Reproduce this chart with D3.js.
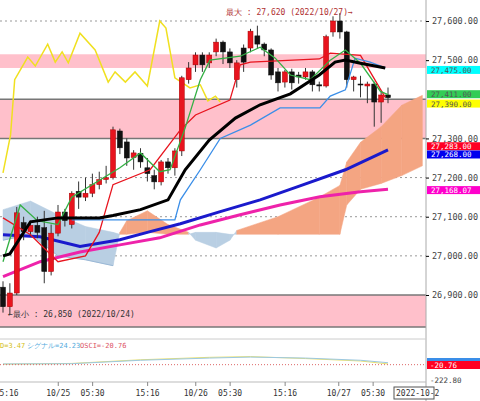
<!DOCTYPE html>
<html><head><meta charset="utf-8">
<script src="https://cdn.jsdelivr.net/npm/d3@7/dist/d3.min.js"></script>
<style>body{margin:0;background:#fff}text{font-family:"DejaVu Sans Mono",monospace}</style>
</head><body><div id="content"></div>
<script>
var width = 480, height = 401, plotW = 426;

// candles: [t, open, close, high, low]
var candles = [
 [0,26920,26870,26935,26855],[1,26870,26905,26930,26850],[2,26905,27110,27125,26900],
 [3,27085,27062,27100,27040],[4,27062,27078,27090,27050],[5,27078,27060,27100,27045],
 [6,27072,26960,27115,26930],[7,26960,27058,27080,26950],[8,27058,27112,27130,27050],
 [9,27112,27090,27120,27075],[10,27080,27160,27165,27070],[11,27165,27150,27190,27120],
 [12,27150,27160,27200,27140],[13,27160,27182,27210,27150],[14,27182,27195,27215,27170],
 [15,27195,27200,27230,27185],[16,27200,27322,27330,27195],[17,27319,27276,27325,27260],
 [18,27291,27250,27300,27230],[19,27251,27263,27270,27220],[20,27262,27240,27275,27225],
 [21,27225,27210,27250,27190],[22,27205,27189,27220,27170],[23,27189,27240,27245,27180],
 [24,27240,27225,27250,27210],[25,27225,27268,27275,27205],[26,27268,27455,27460,27255],
 [27,27450,27480,27495,27440],[28,27488,27513,27520,27470],[29,27513,27488,27520,27470],
 [30,27493,27513,27520,27480],[31,27521,27546,27555,27510],[32,27546,27521,27550,27490],
 [33,27521,27493,27530,27480],[34,27450,27493,27500,27430],[35,27531,27495,27540,27470],
 [36,27531,27574,27580,27520],[37,27562,27541,27588,27530],[38,27541,27526,27545,27510],
 [39,27526,27462,27530,27450],[40,27470,27442,27480,27420],[41,27444,27470,27475,27430],
 [42,27470,27442,27478,27425],[43,27462,27457,27470,27440],[44,27457,27470,27480,27450],
 [45,27470,27437,27475,27420],[46,27437,27434,27445,27420],[47,27434,27560,27565,27430],
 [48,27572,27600,27612,27560],[49,27600,27572,27620,27555],[50,27572,27450,27575,27430],
 [51,27450,27457,27460,27420],[52,27439,27437,27460,27405],[53,27434,27439,27445,27390],
 [54,27439,27393,27445,27330],[55,27393,27411,27420,27340],[56,27411,27404,27430,27390]
];

// indicator lines: [t, price]
var maBlack = [[0,27000],[1,27005],[4,27087],[8,27097],[14,27097],[16,27103],[20,27118],[24,27143],[26.5,27220],[30,27296],[33.8,27352],[37.4,27386],[41.8,27414],[46,27462],[48.3,27495],[49.8,27500],[52,27492],[55.6,27480]];
var lineGreen = [[0,26985],[2.5,27130],[5,27090],[8,27080],[10,27150],[17,27225],[20,27263],[22.8,27215],[24.3,27220],[26.5,27327],[28.7,27450],[30.1,27500],[34.5,27510],[37.4,27533],[39.6,27505],[41.8,27462],[44.7,27450],[47.6,27500],[49.8,27526],[52,27492],[54.9,27420],[56,27412]];
var lineRed = [[0,27097],[4,27054],[8,26985],[12,27000],[14,27060],[16,27182],[21.4,27220],[25.8,27322],[28,27360],[33,27398],[34.5,27488],[36,27495],[46,27503],[47.6,27518],[52,27512],[55.6,27405]];
var lineBlue = [[10,27092],[25,27092],[25.8,27143],[28.7,27220],[31.6,27300],[36,27334],[40.3,27378],[46.1,27378],[47.6,27408],[49.8,27424],[51.2,27505],[53.4,27495],[55.6,27480]];
var lineYellow = [[0,27212],[1.1,27309],[1.7,27450],[3.6,27508],[4.7,27485],[6.5,27541],[7.6,27495],[8.6,27521],[9.5,27493],[11.2,27569],[13.4,27526],[15.3,27444],[16.3,27470],[17.8,27444],[19.2,27470],[21,27434],[22.8,27600],[23.7,27582],[25,27455],[27.2,27429],[28.7,27437],[29.8,27396],[30.9,27408],[31.6,27393]];
var maNavy = [[0,27054],[5.4,27049],[11.2,27024],[17,27041],[21.4,27062],[25.8,27082],[31.6,27113],[37.4,27143],[43.2,27179],[49.8,27220],[56,27271]];
var maMagenta = [[0,26947],[5.4,26985],[11.2,27010],[17,27028],[22.8,27046],[28.7,27079],[34.5,27105],[40.3,27130],[46.1,27151],[52,27164],[56,27170]];
// ichimoku spans
var spanT = [0,4,8,12,16,17,18,21,24,27,28,31,33,34,40,46,49,50,52,55,58,61];
var spanA = [27040,27055,27000,26990,26975,27060,27090,27115,27080,27060,27040,27020,27040,27065,27100,27150,27180,27240,27290,27330,27385,27410];
var spanB = [27118,27140,27105,27075,27060,27055,27055,27060,27055,27055,27060,27060,27055,27055,27055,27055,27055,27130,27170,27185,27205,27230];

var priceTicks = [27600,27500,27300,27200,27100,27000,26900];
var gridDashed = [27600,27200,27100,27000];
var gridSolid = [27400,27300,26900];
var bands = [[27480,27515],[27300,27400],[26818,26900]];
// label, value, box position value, bg, text colour
var priceBoxes = [["27,475.00",27475,27475,"#00ffff","#555"],["27,411.00",27411,27413,"#33cc55","#555"],["27,390.00",27390,27389,"#ffff00","#555"],["27,283.00",27283,27280,"#ff0022","#fff"],["27,268.00",27268,27259,"#0000ee","#fff"],["27,168.07",27168,27168,"#ff00cc","#fff"]];
var timeLabels = [["5:16",-1.2],["10/25",7.6],["05:30",12.6],["15:16",20.6],["10/26",27.6],["05:30",32.6],["15:16",40.6],["10/27",48.4],["05:30",53.4]];

var x = d3.scaleLinear().domain([0,56]).range([3,388]);
var y = d3.scaleLinear().domain([26900,27600]).range([295,21]);

var svg = d3.select("#content").append("svg").attr("width",width).attr("height",height);
var g = svg.append("g");

g.selectAll(".band").data(bands).enter().append("rect")
  .attr("x",0).attr("width",plotW).attr("y",d=>y(d[1])).attr("height",d=>y(d[0])-y(d[1])).attr("fill","#ffc0cb");
g.selectAll(".gd").data(gridDashed).enter().append("line")
  .attr("x1",0).attr("x2",plotW).attr("y1",d=>y(d)).attr("y2",d=>y(d)).attr("stroke","#999").attr("stroke-dasharray","2,3");
g.selectAll(".gs").data(gridSolid).enter().append("line")
  .attr("x1",0).attr("x2",plotW).attr("y1",d=>y(d)).attr("y2",d=>y(d)).attr("stroke","#777").attr("stroke-width",1.5);
g.append("line").attr("x1",0).attr("x2",plotW).attr("y1",y(26818)).attr("y2",y(26818)).attr("stroke","#777").attr("stroke-width",1.5);

// cloud
for (var i=0;i<spanT.length-1;i++){
  var pts=[[spanT[i],spanA[i]],[spanT[i+1],spanA[i+1]],[spanT[i+1],spanB[i+1]],[spanT[i],spanB[i]]];
  var up=(spanA[i]+spanA[i+1])>(spanB[i]+spanB[i+1]);
  g.append("path").attr("d","M"+pts.map(p=>x(p[0])+","+y(p[1])).join("L")+"Z")
    .attr("fill",up?"#f4a582":"#b9cfe3").attr("stroke",up?"#f4a582":"#b9cfe3").attr("stroke-width",0.5);
}
var lineGen = d3.line().x(d=>x(d[0])).y(d=>y(d[1]));
function ln(data,color,w){ g.append("path").attr("d",lineGen(data)).attr("fill","none").attr("stroke",color).attr("stroke-width",w); }
ln(spanT.map((t,i)=>[t,spanA[i]]).slice(0,5),"#9ab8d6",1);
ln(maMagenta,"#ee22aa",3);
ln(maNavy,"#1a1acc",3);
ln(lineYellow,"#f0e020",1.5);

// candles
var c = g.selectAll(".c").data(candles).enter().append("g");
c.append("line").attr("x1",d=>x(d[0])).attr("x2",d=>x(d[0])).attr("y1",d=>y(d[3])).attr("y2",d=>y(d[4])).attr("stroke","#333");
c.append("rect").attr("x",d=>x(d[0])-2.5).attr("width",5)
  .attr("y",d=>y(Math.max(d[1],d[2]))).attr("height",d=>Math.max(1,Math.abs(y(d[1])-y(d[2]))))
  .attr("fill",d=>d[2]>=d[1]?"#e8141e":"#111").attr("stroke",d=>d[2]>=d[1]?"#a00":"#111").attr("stroke-width",0.5);

ln(lineRed,"#e8141e",1.3);
ln(lineBlue,"#3a8ee8",1.3);
ln(lineGreen,"#33b044",1.3);
ln(maBlack,"#000",3);

// annotations
g.append("text").attr("x",226).attr("y",15).attr("font-size",8).attr("fill","#b03030").text("最大 : 27,620 (2022/10/27)→");
g.append("text").attr("x",8).attr("y",317).attr("font-size",8).attr("fill","#333").text("←最小 : 26,850 (2022/10/24)");

// right axis
svg.append("line").attr("x1",plotW).attr("x2",plotW).attr("y1",0).attr("y2",height).attr("stroke","#aaa");
var ax = svg.append("g").attr("transform","translate("+plotW+",0)").call(d3.axisRight(y).tickValues(priceTicks).tickSize(3).tickFormat(d3.format(",.2f")));
ax.select(".domain").remove();
ax.selectAll("text").attr("font-size",8.5).attr("fill","#444").attr("font-family","DejaVu Sans Mono");
var pb = svg.selectAll(".pb").data(priceBoxes).enter().append("g");
pb.append("rect").attr("x",plotW+1).attr("width",54).attr("y",d=>y(d[2])-4).attr("height",8).attr("fill",d=>d[3]);
pb.append("text").attr("x",plotW+5).attr("y",d=>y(d[2])+3).attr("font-size",7.5).attr("fill",d=>d[4]).text(d=>d[0]);

// MACD panel
svg.append("line").attr("x1",0).attr("x2",plotW).attr("y1",339).attr("y2",339).attr("stroke","#ccc");
svg.append("text").attr("x",0).attr("y",348).attr("font-size",7).attr("fill","#d4c020").text("D=3.47");
svg.append("text").attr("x",27).attr("y",348).attr("font-size",7).attr("fill","#55aadd").text("シグナル=24.23");
svg.append("text").attr("x",80).attr("y",348).attr("font-size",7).attr("fill","#dd5566").text("OSCI=-20.76");
var macdY = d3.scaleLinear().domain([-30,60]).range([372,350]);
var macdLine = [[0,2],[10,5],[20,20],[30,30],[36,33],[44,25],[52,15],[56,3]];
var sigLine = [[0,3],[10,4],[20,18],[30,27],[36,31],[44,27],[52,18],[56,8]];
var mline = d3.line().x(d=>x(d[0])).y(d=>macdY(d[1]));
svg.append("path").attr("d",mline(macdLine)).attr("fill","none").attr("stroke","#e8e070");
svg.append("path").attr("d",mline(sigLine)).attr("fill","none").attr("stroke","#9cc8e0");
svg.append("line").attr("x1",0).attr("x2",plotW).attr("y1",macdY(0)).attr("y2",macdY(0)).attr("stroke","#d66").attr("stroke-dasharray","1,2");
svg.append("rect").attr("x",plotW+1).attr("y",358).attr("width",54).attr("height",3).attr("fill","#3a8ee8");
svg.append("rect").attr("x",plotW+1).attr("y",361).attr("width",54).attr("height",8).attr("fill","#ff0022");
svg.append("text").attr("x",plotW+4).attr("y",368).attr("font-size",7.5).attr("fill","#fff").text("-20.76");
svg.append("text").attr("x",plotW+4).attr("y",383).attr("font-size",7.5).attr("fill","#444").text("-222.80");

// time axis
svg.append("line").attr("x1",0).attr("x2",plotW).attr("y1",382).attr("y2",382).attr("stroke","#bbb");
var tl = svg.selectAll(".tl").data(timeLabels).enter().append("g");
tl.append("line").attr("x1",d=>x(d[1])+3).attr("x2",d=>x(d[1])+3).attr("y1",382).attr("y2",386).attr("stroke","#888");
tl.append("text").attr("x",d=>Math.max(9,x(d[1])+3)).attr("y",396).attr("text-anchor","middle").attr("font-size",8).attr("fill","#333").text(d=>d[0]);
svg.append("rect").attr("x",394).attr("y",387).attr("width",40).attr("height",12).attr("fill","#fff").attr("stroke","#555");
svg.append("text").attr("x",396).attr("y",396).attr("font-size",8).attr("fill","#333").text("2022-10-2");
</script></body></html>
